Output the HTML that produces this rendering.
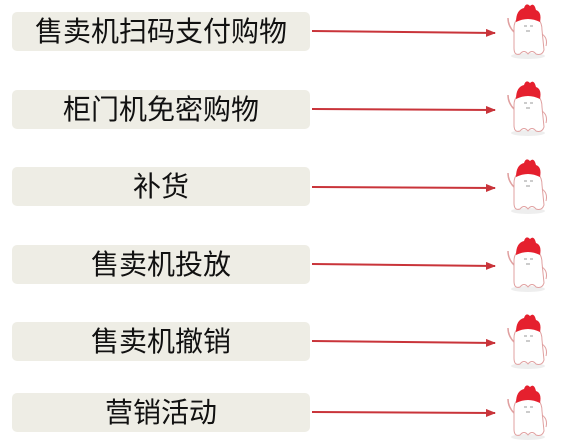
<!DOCTYPE html>
<html><head><meta charset="utf-8"><style>
body{margin:0;width:564px;height:447px;background:#fff;position:relative;overflow:hidden;font-family:"Liberation Sans","Noto Sans CJK SC",sans-serif}
.b{position:absolute;left:12px;width:298px;height:39px;background:#eeede5;border-radius:5px;text-align:center;line-height:39px;font-size:28px;color:#111}
svg{position:absolute;left:0;top:0}
</style></head><body>
<div class="b" style="top:12px">售卖机扫码支付购物</div>
<div class="b" style="top:90px">柜门机免密购物</div>
<div class="b" style="top:167px">补货</div>
<div class="b" style="top:245px">售卖机投放</div>
<div class="b" style="top:322px">售卖机撤销</div>
<div class="b" style="top:393px">营销活动</div>
<svg width="564" height="447">
<defs>
<g id="m">
<ellipse cx="26" cy="54" rx="17" ry="3" fill="#eee"/>
<path d="M12 26 Q12 14 26 14 Q40 14 40 28 L42 48 Q40 54 34 52 Q30 47 26 52 Q22 47 18 52 Q12 54 12 46 Z" fill="#fff" stroke="#e0a0a0" stroke-width="1"/>
<path d="M12 30 Q6 24 6 16" stroke="#e0a0a0" fill="none" stroke-width="1.5"/>
<path d="M40 32 Q46 36 44 44" stroke="#e0a0a0" fill="none" stroke-width="1"/>
<path d="M14 20 Q14 8 22 6 Q24 0 28 4 Q32 0 34 8 Q40 10 38 20 Q26 14 14 20 Z" fill="#e5202e"/>
<path d="M22 24 h3 M28 24 h3 M24 29 h4" stroke="#999" stroke-width="1"/>
</g>
<marker id="a" markerWidth="10" markerHeight="8" refX="9" refY="4" orient="auto" markerUnits="userSpaceOnUse"><path d="M0 0 L10 4 L0 8 Z" fill="#c9343a"/></marker>
</defs>
<g stroke="#c9343a" stroke-width="2" marker-end="url(#a)">
<line x1="312" y1="31" x2="495" y2="33"/>
<line x1="312" y1="109" x2="495" y2="110"/>
<line x1="312" y1="187" x2="495" y2="188"/>
<line x1="312" y1="264" x2="495" y2="266"/>
<line x1="312" y1="341" x2="495" y2="343"/>
<line x1="312" y1="412" x2="495" y2="413"/>
</g>
<use href="#m" x="502" y="2"/>
<use href="#m" x="502" y="79"/>
<use href="#m" x="502" y="157"/>
<use href="#m" x="502" y="235"/>
<use href="#m" x="502" y="312"/>
<use href="#m" x="502" y="383"/>
</svg>
</body></html>
